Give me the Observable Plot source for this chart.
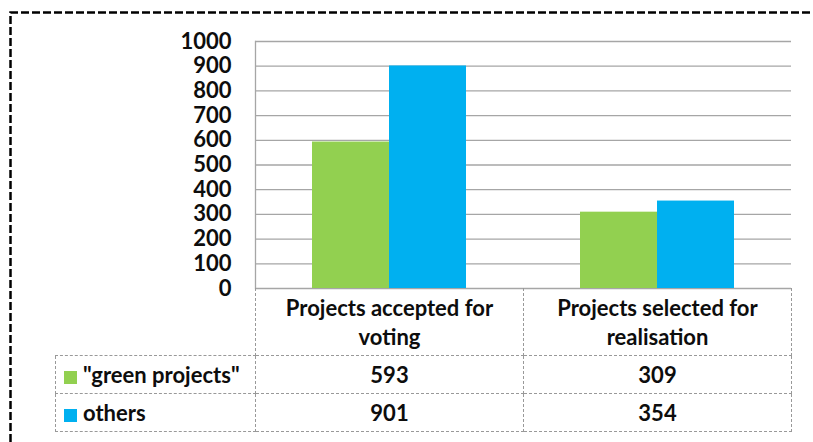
<!DOCTYPE html>
<html>
<head>
<meta charset="utf-8">
<script src="https://cdn.jsdelivr.net/npm/d3@7"></script>
<script src="https://cdn.jsdelivr.net/npm/@observablehq/plot@0.6"></script>
<style>
  html, body { margin: 0; padding: 0; background: #fff; }
  body { width: 813px; height: 442px; position: relative; overflow: hidden; font-family: Lato, "Open Sans", sans-serif; color: #0d0d0d; }
  #chart { position: absolute; left: 0; top: 0; }
  #border { position: absolute; left: 0; top: 0; pointer-events: none; }
  #tbl { position: absolute; left: 55px; top: 288px; border-collapse: collapse; table-layout: fixed; font-weight: bold; font-size: 22px; }
  #tbl td { padding: 0; text-align: center; vertical-align: middle; border: 1px dashed #999; }
  #tbl tr.head td { height: 67px; line-height: 29px; border-top: none; }
  #tbl tr.head td.blank { border: none; border-right: 1px dashed #999; border-bottom: 1px dashed #999; }
  #tbl tr.row td { height: 37px; }
  #tbl td.leg { text-align: left; padding-left: 8px; }
  .sw { display: inline-block; width: 13px; height: 13px; margin-right: 6px; vertical-align: -1px; }
</style>
</head>
<body>
<div id="chart"></div>
<table id="tbl"></table>
<svg id="border" width="813" height="442"><path d="M10.5,442V12.5H813" fill="none" stroke="#000" stroke-width="2.5" stroke-dasharray="8,3"/></svg>
<script>
const categories = ["Projects accepted for voting", "Projects selected for realisation"];
const categoryLines = [["Projects accepted for", "voting"], ["Projects selected for", "realisation"]];
const series = ['"green projects"', "others"];
const greenValues = [593, 309];
const otherValues = [901, 354];
const seriesValues = [greenValues, otherValues];
const yTicks = [0, 100, 200, 300, 400, 500, 600, 700, 800, 900, 1000];
const colors = ["#92D050", "#00B0F0"];

const rows = categories.flatMap((c, i) => series.map((s, j) => ({category: c, series: s, value: seriesValues[j][i]})));

const chart = Plot.plot({
  width: 813,
  height: 302,
  marginLeft: 255,
  marginRight: 22,
  marginTop: 41,
  marginBottom: 14,
  style: {fontFamily: "Lato, 'Open Sans', sans-serif", fontSize: "22px", fontWeight: "bold", color: "#0d0d0d", background: "transparent"},
  fx: {domain: categories, paddingInner: 0, paddingOuter: 0, axis: null, label: null},
  x: {domain: series, paddingInner: 0, paddingOuter: 0.74, axis: null, label: null},
  y: {domain: [0, 1000], label: null},
  color: {domain: series, range: colors},
  marks: [
    Plot.gridY(yTicks, {stroke: "#a6a6a6", strokeOpacity: 1, strokeWidth: 1.3}),
    Plot.frame({anchor: "left", stroke: "#a6a6a6", strokeWidth: 1.3, fx: () => categories[0]}),
    Plot.barY(rows, {fx: "category", x: "series", y: "value", fill: "series"}),
    Plot.axisY(yTicks, {tickSize: 0, tickPadding: 24, label: null, tickFormat: d3.format("d"), fontSize: 22, fontWeight: "bold"})
  ]
});
document.getElementById("chart").appendChild(chart);

// data table under the chart
const tbl = document.getElementById("tbl");
const colgroup = document.createElement("colgroup");
[200, 268, 268].forEach(w => { const c = document.createElement("col"); c.style.width = w + "px"; colgroup.appendChild(c); });
tbl.appendChild(colgroup);
const head = document.createElement("tr");
head.className = "head";
const blank = document.createElement("td"); blank.className = "blank"; head.appendChild(blank);
categoryLines.forEach(lines => { const td = document.createElement("td"); td.innerHTML = lines.join("<br>"); head.appendChild(td); });
tbl.appendChild(head);
series.forEach((s, j) => {
  const tr = document.createElement("tr"); tr.className = "row";
  const leg = document.createElement("td"); leg.className = "leg";
  const sw = document.createElement("span"); sw.className = "sw"; sw.style.background = colors[j];
  leg.appendChild(sw); leg.appendChild(document.createTextNode(s));
  tr.appendChild(leg);
  seriesValues[j].forEach(v => { const td = document.createElement("td"); td.textContent = v; tr.appendChild(td); });
  tbl.appendChild(tr);
});
</script>
</body>
</html>
